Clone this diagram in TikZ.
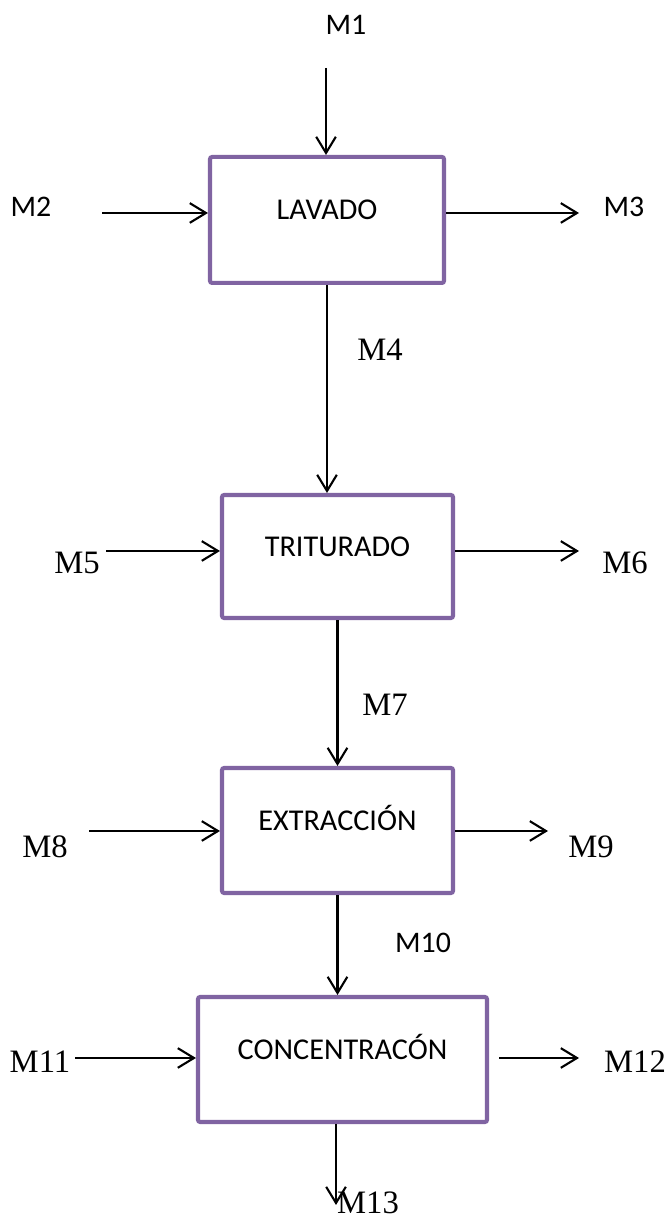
\documentclass[tikz,border=0pt]{standalone}
\usepackage{fontspec}
\setmainfont{Liberation Serif}
\newfontfamily\carlito{Carlito}
\usetikzlibrary{arrows.meta,positioning}
\definecolor{stagepurple}{RGB}{128,100,162}

\begin{document}
\begin{tikzpicture}[
  stage/.style={draw=stagepurple,line width=1.15pt,rounded corners=0.6pt,fill=white,
    minimum height=1.25cm,text height=1ex,text depth=1ex,font=\carlito\fontsize{8.6}{10}\selectfont},
  sans/.style={font=\carlito\fontsize{8.5}{10}\selectfont},
  serif/.style={font=\fontsize{9.3}{11}\selectfont},
  flow/.style={line width=0.6pt,-{Straight Barb[length=4.6pt,width=5.6pt]}}]
  \fill[white](0,0) rectangle (6.70,12.19);
  \useasboundingbox (0,0) rectangle (6.70,12.19);
  \node[stage,minimum width=2.34cm,minimum height=1.26cm](lavado) at(3.27,9.99){LAVADO};
  \node[stage,minimum width=2.31cm,minimum height=1.23cm](triturado) at(3.375,6.625){TRITURADO};
  \node[stage,minimum width=2.31cm](extraccion) at(3.375,3.885){EXTRACCIÓN};
  \node[stage,minimum width=2.89cm](concent) at(3.425,1.595){CONCENTRACÓN};
  \coordinate(m1) at(3.26,11.51);\coordinate(m2) at(1.02,10.06);\coordinate(m3) at(5.79,10.06);
  \coordinate(m5) at(1.06,6.68);\coordinate(m6) at(5.79,6.68);
  \coordinate(m8) at(0.89,3.88);\coordinate(m9) at(5.48,3.88);
  \coordinate(m11) at(0.75,1.61);\coordinate(m12) at(5.79,1.61);\coordinate(m13) at(3.36,0.14);
  \draw[flow](m1)--(m1|-lavado.north);
  \draw[flow](m2)--(m2-|lavado.west);
  \draw[flow](m3-|lavado.east)--(m3);
  \draw[flow](lavado.south)--(lavado.south|-triturado.north);
  \draw[flow](m5)--(m5-|triturado.west);
  \draw[flow](m6-|triturado.east)--(m6);
  \draw[flow](triturado.south)--(triturado.south|-extraccion.north);
  \draw[flow](m8)--(m8-|extraccion.west);
  \draw[flow](m9-|extraccion.east)--(m9);
  \draw[flow](extraccion.south)--(extraccion.south|-concent.north);
  \draw[flow](m11)--(m11-|concent.west);
  \draw[flow,shorten <=1mm](m12-|concent.east)--(m12);
  \draw[flow](m13|-concent.south)--(m13);
  \node[sans](l1) at(3.46,11.94){M1};
  \node[sans](l2) at(0.31,10.12){M2};\node[sans](l3) at(6.24,10.12){M3};
  \node[serif](l4) at(3.80,8.69){M4};
  \node[serif](l5) at(0.77,6.56){M5};\node[serif](l6) at(6.25,6.56){M6};
  \node[serif](l7) at(3.85,5.14){M7};
  \node[serif](l8) at(0.45,3.72){M8};\node[serif](l9) at(5.91,3.72){M9};
  \node[sans](l10) at(4.23,2.76){M10};
  \node[serif](l11) at(0.40,1.57){M11};\node[serif](l12) at(6.35,1.57){M12};
  \node[serif](l13) at(3.68,0.16){M13};
\end{tikzpicture}
\end{document}
